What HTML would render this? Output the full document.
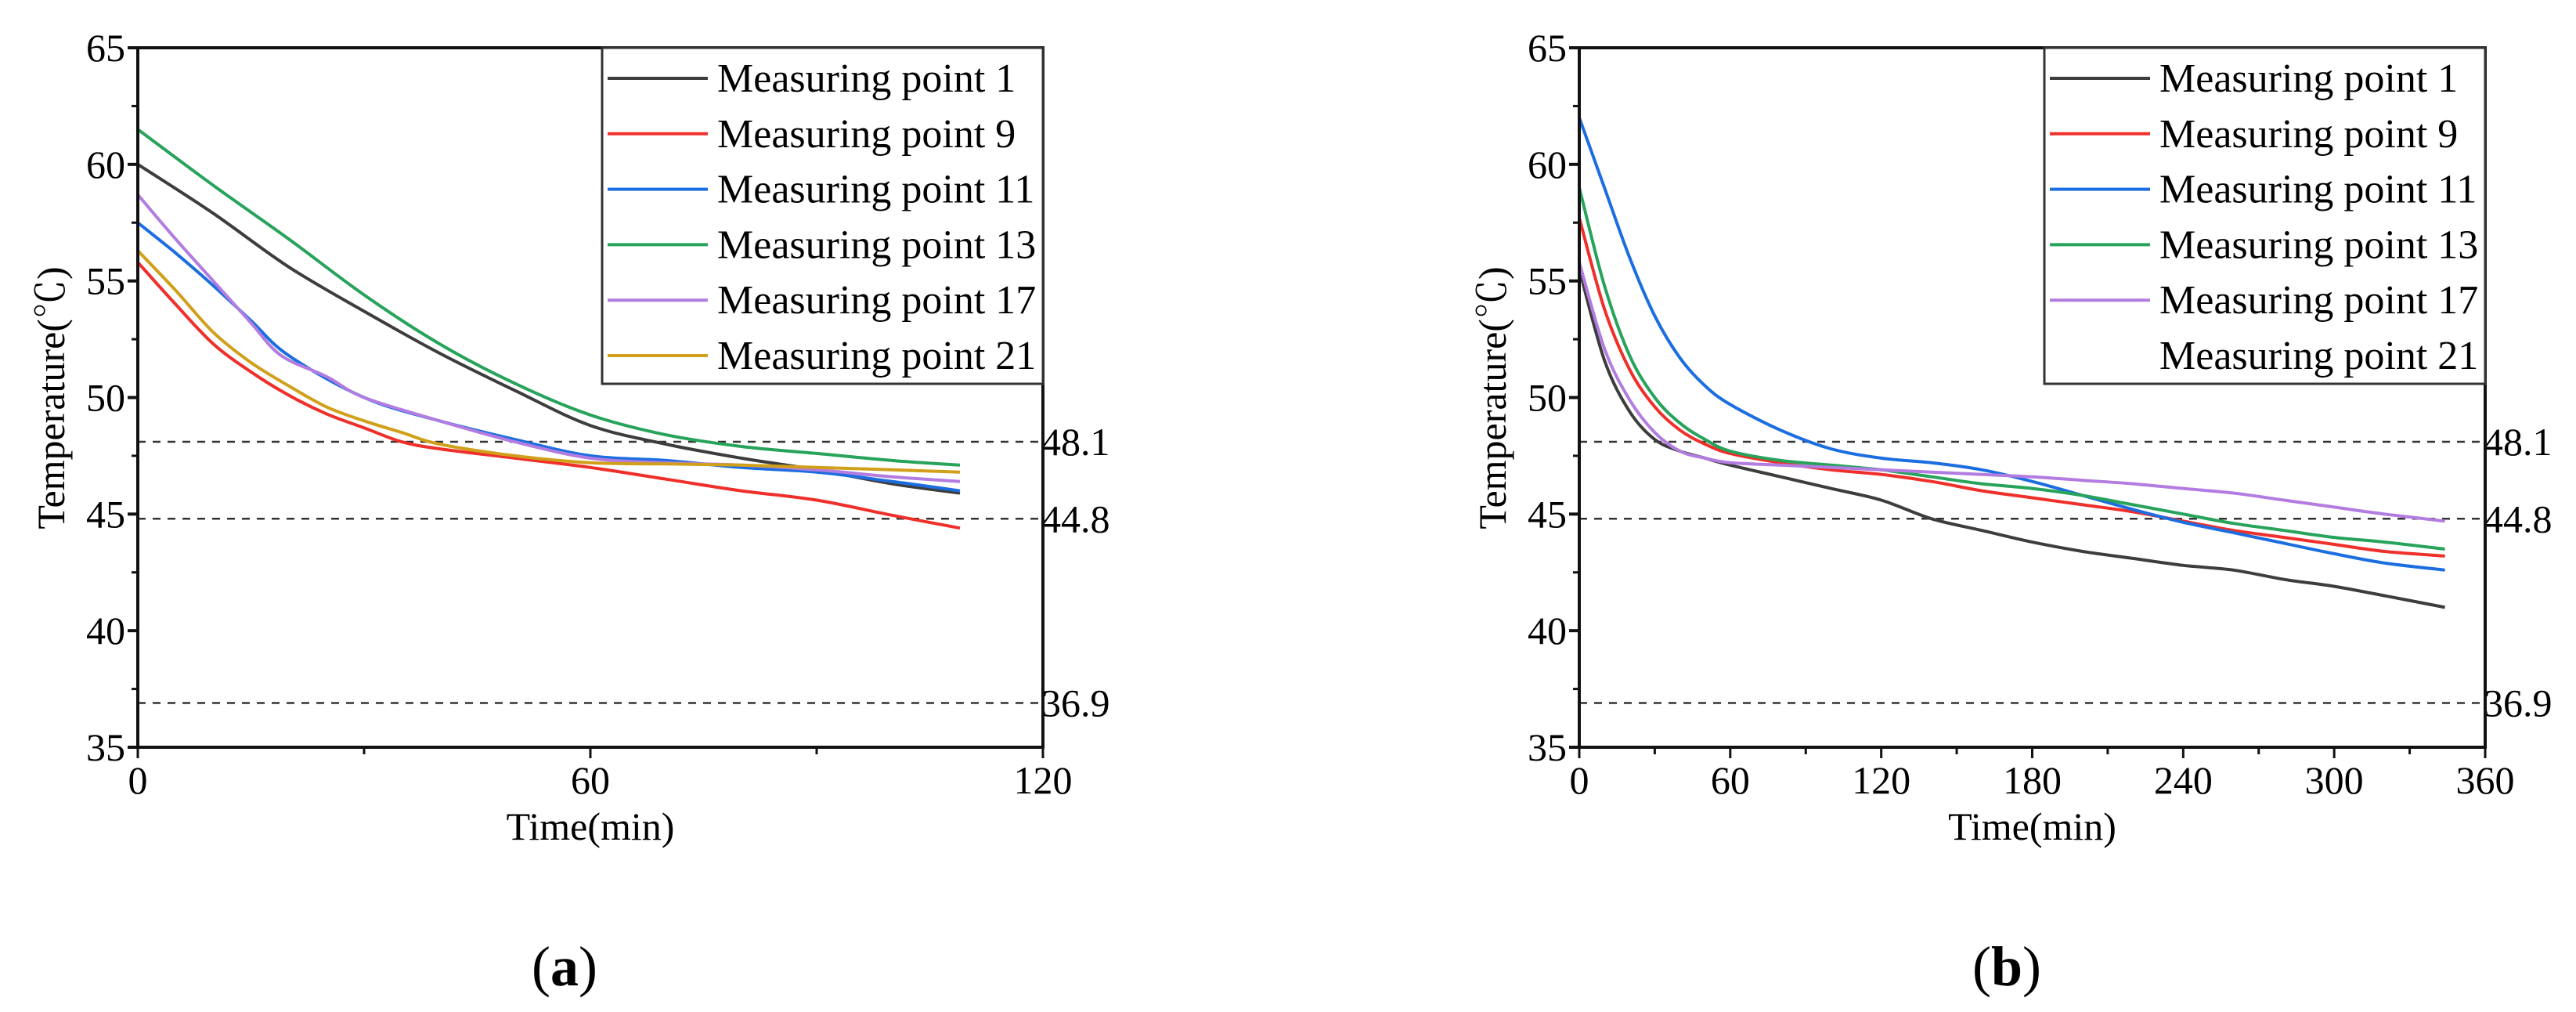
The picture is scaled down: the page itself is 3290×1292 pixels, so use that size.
<!DOCTYPE html>
<html>
<head>
<meta charset="utf-8">
<style>
html,body{margin:0;padding:0;background:#fff;}
svg{display:block;font-family:"Liberation Serif","Noto Serif CJK SC",serif;}
</style>
</head>
<body>
<svg id="fig" width="3290" height="1292" viewBox="0 0 3290 1292" xmlns="http://www.w3.org/2000/svg">
  <rect x="0" y="0" width="3290" height="1292" fill="#fff"/>
  <g id="chartA"></g>
  <g id="chartB"></g>
  <text x="721" y="1258" font-size="72" text-anchor="middle">(<tspan font-weight="bold">a</tspan>)</text>
  <text x="2563" y="1258" font-size="72" text-anchor="middle">(<tspan font-weight="bold">b</tspan>)</text>
</svg>
<script>
// ---------- data: chart (a) ----------
const aXTicks = [0, 60, 120];
const yTicks = [35, 40, 45, 50, 55, 60, 65];
const refLines = [48.1, 44.8, 36.9];
const legendNames = ["Measuring point 1","Measuring point 9","Measuring point 11","Measuring point 13","Measuring point 17","Measuring point 21"];
const aMp1T = [0,10,20,30,40,50,60,70,80,90,100,109];
const aMp1V = [60,57.9,55.6,53.7,51.9,50.3,48.8,48.0,47.4,46.9,46.3,45.9];
const aMp9T = [0,5,10,15,20,25,30,35,40,50,60,70,80,90,100,109];
const aMp9V = [55.8,54.0,52.3,51.1,50.1,49.3,48.7,48.1,47.8,47.4,47.0,46.5,46.0,45.6,44.95,44.4];
const aMp11T = [0,5,10,15,20,30,40,50,60,70,80,90,100,109];
const aMp11V = [57.5,56.2,54.8,53.3,51.8,50.0,49.0,48.2,47.5,47.3,47.0,46.8,46.4,46.0];
const aMp13T = [0,10,20,30,40,50,60,70,80,90,100,109];
const aMp13V = [61.5,59.1,56.8,54.4,52.3,50.6,49.25,48.4,47.9,47.6,47.3,47.1];
const aMp17T = [0,5,10,15,19,25,30,40,50,60,70,80,90,100,109];
const aMp17V = [58.7,56.8,55.0,53.2,51.8,50.9,50.0,49.0,48.1,47.4,47.2,47.1,46.9,46.6,46.4];
const aMp21T = [0,5,10,15,20,25,30,35,40,50,60,70,80,90,100,109];
const aMp21V = [56.3,54.6,52.8,51.5,50.5,49.6,49.0,48.5,48.0,47.5,47.2,47.15,47.1,47.0,46.9,46.8];
// ---------- data: chart (b) ----------
const bXTicks = [0, 60, 120, 180, 240, 300, 360];
const bT = [0,10,20,30,40,50,60,80,100,120,140,160,180,200,220,240,260,280,300,320,344];
const bMp1V = [55.5,51.6,49.4,48.2,47.7,47.4,47.1,46.6,46.1,45.6,44.8,44.3,43.8,43.4,43.1,42.8,42.6,42.2,41.9,41.5,41.0];
const bMp9V = [57.7,53.8,51.2,49.6,48.6,48.0,47.6,47.2,46.9,46.7,46.4,46.0,45.7,45.4,45.1,44.7,44.3,44.0,43.7,43.4,43.2];
const bMp11V = [62,59,56,53.5,51.7,50.5,49.7,48.6,47.8,47.4,47.2,46.9,46.4,45.8,45.2,44.65,44.2,43.75,43.3,42.9,42.6];
const bMp13V = [59,54.8,51.8,50.0,48.9,48.2,47.7,47.3,47.1,46.9,46.6,46.3,46.1,45.8,45.4,45.0,44.6,44.3,44.0,43.8,43.5];
const bMp17V = [55.8,52.1,49.9,48.5,47.7,47.4,47.2,47.1,47.0,46.9,46.8,46.7,46.6,46.45,46.3,46.1,45.9,45.6,45.3,45.0,44.7];

const colors = ["#3d3d3d","#ef2f2a","#1c6ee0","#27a35b","#b27ce0","#d1a01a"];
const NS = "http://www.w3.org/2000/svg";
function mk(parent, tag, attrs){
  const e = document.createElementNS(NS, tag);
  for (const k in attrs) e.setAttribute(k, attrs[k]);
  parent.appendChild(e);
  return e;
}
function smoothPath(pts){
  let d = "M"+pts[0][0].toFixed(1)+" "+pts[0][1].toFixed(1);
  for (let i=0;i<pts.length-1;i++){
    const p0 = pts[Math.max(0,i-1)], p1 = pts[i], p2 = pts[i+1], p3 = pts[Math.min(pts.length-1,i+2)];
    const c1x = p1[0]+(p2[0]-p0[0])/6, c1y = p1[1]+(p2[1]-p0[1])/6;
    const c2x = p2[0]-(p3[0]-p1[0])/6, c2y = p2[1]-(p3[1]-p1[1])/6;
    d += "C"+c1x.toFixed(1)+" "+c1y.toFixed(1)+" "+c2x.toFixed(1)+" "+c2y.toFixed(1)+" "+p2[0].toFixed(1)+" "+p2[1].toFixed(1);
  }
  return d;
}

function drawChart(g, cfg){
  const L=cfg.left, R=cfg.right, T=61, B=954, xMax=cfg.xMax;
  const sx = v => L + (v/xMax)*(R-L);
  const sy = v => T + (65-v)/30*(B-T);
  refLines.forEach(v=>{
    const ln = mk(g,"line",{x1:L,x2:R,y1:sy(v),y2:sy(v),stroke:"#333","stroke-width":2.5,"stroke-dasharray":"10 9"});
    
    
    const t = mk(g,"text",{x:R-2,y:sy(v)+17,"font-size":50});
    t.textContent = v.toFixed(1);
    
    
  });
  cfg.series.forEach((s,i)=>{
    const pts = s.t.map((tv,j)=>[sx(tv), sy(s.v[j])]);
    const p = mk(g,"path",{d:smoothPath(pts),fill:"none",stroke:s.c,"stroke-width":4,"stroke-linejoin":"round"});
    
    
  });
  const fr = mk(g,"rect",{x:L,y:T,width:R-L,height:B-T,fill:"none",stroke:"#111","stroke-width":4});
  
  
  yTicks.forEach(v=>{
    mk(g,"line",{x1:L-13,x2:L,y1:sy(v),y2:sy(v),stroke:"#111","stroke-width":4});
    const t = mk(g,"text",{x:L-16,y:sy(v)+17,"font-size":50,"text-anchor":"end"});
    t.textContent = v;
    
    
  });
  for (let v=37.5; v<65; v+=5) mk(g,"line",{x1:L-8,x2:L,y1:sy(v),y2:sy(v),stroke:"#111","stroke-width":3});
  cfg.xTicks.forEach((v,i)=>{
    mk(g,"line",{x1:sx(v),x2:sx(v),y1:B,y2:B+14,stroke:"#111","stroke-width":3});
    const t = mk(g,"text",{x:sx(v),y:1013,"font-size":50,"text-anchor":"middle"});
    t.textContent = v;
    
    
    if (i < cfg.xTicks.length-1){
      const m = (v + cfg.xTicks[i+1])/2;
      mk(g,"line",{x1:sx(m),x2:sx(m),y1:B,y2:B+9,stroke:"#111","stroke-width":3});
    }
  });
  const xt = mk(g,"text",{x:(L+R)/2,y:1072,"font-size":50,"text-anchor":"middle"});
  xt.textContent = "Time(min)";
  
  
  const yt = mk(g,"text",{x:0,y:0,"font-size":50,"text-anchor":"middle",transform:`translate(${L-94},508) rotate(-90)`});
  yt.textContent = "Temperature(℃)";
  
  
  const lg = mk(g,"g",{});
  
  
  mk(lg,"rect",{x:cfg.legX,y:T,width:R-cfg.legX,height:429,fill:"#fff",stroke:"#333","stroke-width":3});
  legendNames.forEach((n,i)=>{
    const y = 100 + i*70.8;
    if (cfg.legLines[i]) {
      const l = mk(lg,"line",{x1:cfg.legX+7,x2:cfg.legX+135,y1:y,y2:y,stroke:colors[i],"stroke-width":4});
      
      
    }
    const t = mk(lg,"text",{x:cfg.legX+147,y:y+17,"font-size":52});
    t.textContent = n;
    
    
  });
}

drawChart(document.getElementById("chartA"), {
  left:176, right:1332, xMax:120, xTicks:aXTicks, legX:769, legLines:[1,1,1,1,1,1],
  series:[
    {t:aMp1T,v:aMp1V,c:colors[0]},
    {t:aMp9T,v:aMp9V,c:colors[1]},
    {t:aMp11T,v:aMp11V,c:colors[2]},
    {t:aMp13T,v:aMp13V,c:colors[3]},
    {t:aMp17T,v:aMp17V,c:colors[4]},
    {t:aMp21T,v:aMp21V,c:colors[5]}
  ]
});
drawChart(document.getElementById("chartB"), {
  left:2017, right:3174, xMax:360, xTicks:bXTicks, legX:2611, legLines:[1,1,1,1,1,0],
  series:[
    {t:bT,v:bMp1V,c:colors[0]},
    {t:bT,v:bMp9V,c:colors[1]},
    {t:bT,v:bMp11V,c:colors[2]},
    {t:bT,v:bMp13V,c:colors[3]},
    {t:bT,v:bMp17V,c:colors[4]}
  ]
});
</script>
</body>
</html>
